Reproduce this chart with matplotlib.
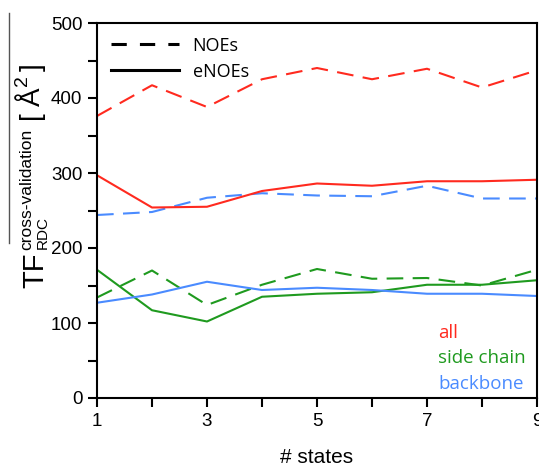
import numpy as np
import matplotlib
matplotlib.use('Agg')
import matplotlib.pyplot as plt
from matplotlib.lines import Line2D

states = [1, 2, 3, 4, 5, 6, 7, 8, 9]

# NOEs (dashed)
all_noe = [376, 417, 388, 425, 440, 425, 439, 414, 437]
side_noe = [134, 170, 124, 151, 172, 159, 160, 150, 171]
back_noe = [244, 248, 267, 273, 270, 269, 283, 266, 266]

# eNOEs (solid)
all_enoe = [297, 254, 255, 276, 286, 283, 289, 289, 291]
side_enoe = [171, 117, 102, 135, 139, 141, 151, 151, 157]
back_enoe = [127, 138, 155, 144, 147, 144, 139, 139, 136]

red = '#ff2a1f'
green = '#1f9a1f'
blue = '#4a8bff'

tick_font = 'Liberation Sans'
label_font = ['Open Sans', 'DejaVu Sans']
plt.rcParams['mathtext.fontset'] = 'custom'
plt.rcParams['mathtext.rm'] = 'Liberation Sans'

W, H = 539, 471
fig = plt.figure(figsize=(W / 100, H / 100), dpi=100)
ax = fig.add_axes([97 / W, 1 - 398 / H, 440 / W, 375 / H])

dash = (8, 4.5)
lw = 1.5
ax.plot(states, all_noe, color=red, lw=lw, dashes=dash)
ax.plot(states, side_noe, color=green, lw=lw, dashes=dash)
ax.plot(states, back_noe, color=blue, lw=lw, dashes=dash)
ax.plot(states, all_enoe, color=red, lw=lw)
ax.plot(states, side_enoe, color=green, lw=lw)
ax.plot(states, back_enoe, color=blue, lw=lw)

ax.set_xlim(1, 9)
ax.set_ylim(0, 500)
ax.set_xticks(states)
ax.set_xticklabels([str(s) if s % 2 == 1 else '' for s in states])
ax.set_yticks(np.arange(0, 501, 50))
ax.set_yticklabels([str(v) if v % 100 == 0 else '' for v in range(0, 501, 50)])
ax.tick_params(direction='out', length=6.5, width=1.5, labelsize=13.5, pad=4)
for lab in ax.get_xticklabels() + ax.get_yticklabels():
    lab.set_family(tick_font)
for sp in ax.spines.values():
    sp.set_linewidth(1.5)

ax.set_xlabel('# states', family=tick_font, fontsize=15, labelpad=13)

# legend for line styles
handles = [Line2D([0], [0], color='black', lw=2.2, dashes=(5, 4.3)),
           Line2D([0], [0], color='black', lw=2.2)]
ax.legend(handles, ['NOEs', 'eNOEs'], loc='upper left', frameon=False,
          handlelength=3.8, handletextpad=0.75, labelspacing=0.45,
          borderaxespad=0.35, prop={'family': label_font, 'size': 13})

# coloured group labels
ax.text(0.775, 0.16, 'all', color=red, transform=ax.transAxes,
        family=label_font, fontsize=13.5, va='baseline')
ax.text(0.775, 0.093, 'side chain', color=green, transform=ax.transAxes,
        family=label_font, fontsize=13.5, va='baseline')
ax.text(0.775, 0.024, 'backbone', color=blue, transform=ax.transAxes,
        family=label_font, fontsize=13.5, va='baseline')


# y label built from pieces (rotated, reading upwards)
def vtext(px, py, s, size):
    fig.text(px / W, 1 - py / H, s, rotation=90, rotation_mode='anchor',
             ha='left', va='baseline', fontsize=size, family=tick_font)


vtext(43, 288, 'TF', 21)
vtext(31, 250, 'cross-validation', 12.5)
vtext(47, 249, 'RDC', 11)
vtext(40, 122, r'$[\;\mathrm{\AA}^{2}\,]$', 20)
fig.add_artist(Line2D([9 / W, 9 / W], [1 - 243 / H, 1 - 13 / H],
                      transform=fig.transFigure, color='#555555', lw=1))

fig.savefig('out.png', dpi=100)
